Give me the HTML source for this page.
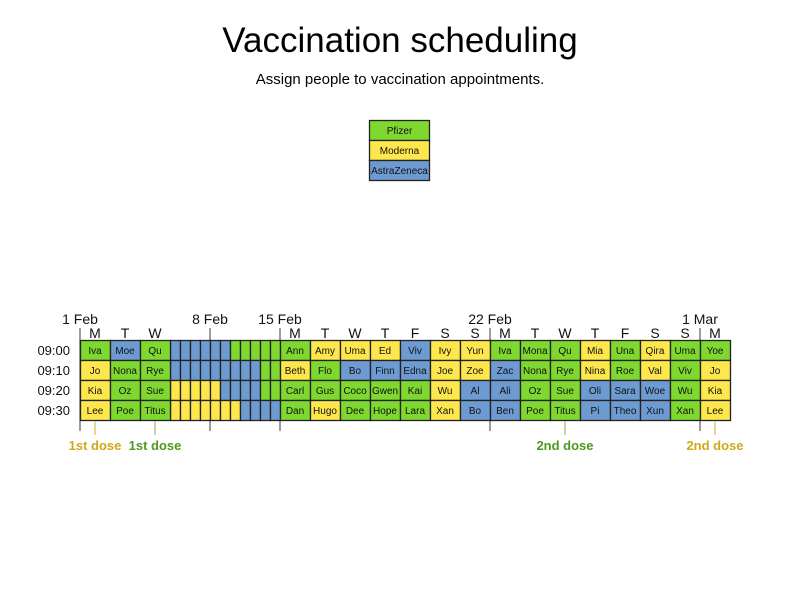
<!DOCTYPE html>
<html><head><meta charset="utf-8"><style>
body{margin:0;background:#fff}
svg{display:block;font-family:"Liberation Sans",sans-serif}
.G{fill:#7ed82f}.Y{fill:#fde74c}.B{fill:#6d9bd1}
rect{stroke:#222;stroke-width:1.3}
.n{font-size:10px;text-anchor:middle;fill:#111}
.d{font-size:14px;text-anchor:middle;fill:#111}
.t{font-size:13px;text-anchor:end;fill:#111}
.tk{stroke:#666;stroke-width:1.3}
</style></head><body>
<svg width="800" height="600" viewBox="0 0 800 600">
<text x="400" y="52" font-size="35" text-anchor="middle" fill="#000">Vaccination scheduling</text>
<text x="400" y="84" font-size="15" text-anchor="middle" fill="#000">Assign people to vaccination appointments.</text>
<rect class="G" x="369.5" y="120.5" width="60" height="20"/><text class="n" x="399.5" y="134">Pfizer</text>
<rect class="Y" x="369.5" y="140.5" width="60" height="20"/><text class="n" x="399.5" y="154">Moderna</text>
<rect class="B" x="369.5" y="160.5" width="60" height="20"/><text class="n" x="399.5" y="174">AstraZeneca</text>
<line class="tk" x1="80" y1="328" x2="80" y2="431"/>
<line class="tk" x1="210" y1="328" x2="210" y2="431"/>
<line class="tk" x1="280" y1="328" x2="280" y2="431"/>
<line class="tk" x1="490" y1="328" x2="490" y2="431"/>
<line class="tk" x1="700" y1="328" x2="700" y2="431"/>
<text class="d" x="80" y="324">1 Feb</text><text class="d" x="210" y="324">8 Feb</text><text class="d" x="280" y="324">15 Feb</text><text class="d" x="490" y="324">22 Feb</text><text class="d" x="700" y="324">1 Mar</text>
<g>
<text class="d" x="95" y="338">M</text><text class="d" x="125" y="338">T</text><text class="d" x="155" y="338">W</text>
<text class="d" x="295" y="338">M</text><text class="d" x="325" y="338">T</text><text class="d" x="355" y="338">W</text><text class="d" x="385" y="338">T</text><text class="d" x="415" y="338">F</text><text class="d" x="445" y="338">S</text><text class="d" x="475" y="338">S</text><text class="d" x="505" y="338">M</text><text class="d" x="535" y="338">T</text><text class="d" x="565" y="338">W</text><text class="d" x="595" y="338">T</text><text class="d" x="625" y="338">F</text><text class="d" x="655" y="338">S</text><text class="d" x="685" y="338">S</text><text class="d" x="715" y="338">M</text>
</g>
<text class="t" x="70" y="355">09:00</text><text class="t" x="70" y="375">09:10</text><text class="t" x="70" y="395">09:20</text><text class="t" x="70" y="415">09:30</text>
<g>
<rect class="B" x="170.5" y="340.5" width="10" height="20"/><rect class="B" x="180.5" y="340.5" width="10" height="20"/><rect class="B" x="190.5" y="340.5" width="10" height="20"/><rect class="B" x="200.5" y="340.5" width="10" height="20"/><rect class="B" x="210.5" y="340.5" width="10" height="20"/><rect class="B" x="220.5" y="340.5" width="10" height="20"/><rect class="G" x="230.5" y="340.5" width="10" height="20"/><rect class="G" x="240.5" y="340.5" width="10" height="20"/><rect class="G" x="250.5" y="340.5" width="10" height="20"/><rect class="G" x="260.5" y="340.5" width="10" height="20"/><rect class="G" x="270.5" y="340.5" width="10" height="20"/>
<rect class="B" x="170.5" y="360.5" width="10" height="20"/><rect class="B" x="180.5" y="360.5" width="10" height="20"/><rect class="B" x="190.5" y="360.5" width="10" height="20"/><rect class="B" x="200.5" y="360.5" width="10" height="20"/><rect class="B" x="210.5" y="360.5" width="10" height="20"/><rect class="B" x="220.5" y="360.5" width="10" height="20"/><rect class="B" x="230.5" y="360.5" width="10" height="20"/><rect class="B" x="240.5" y="360.5" width="10" height="20"/><rect class="B" x="250.5" y="360.5" width="10" height="20"/><rect class="G" x="260.5" y="360.5" width="10" height="20"/><rect class="G" x="270.5" y="360.5" width="10" height="20"/>
<rect class="Y" x="170.5" y="380.5" width="10" height="20"/><rect class="Y" x="180.5" y="380.5" width="10" height="20"/><rect class="Y" x="190.5" y="380.5" width="10" height="20"/><rect class="Y" x="200.5" y="380.5" width="10" height="20"/><rect class="Y" x="210.5" y="380.5" width="10" height="20"/><rect class="B" x="220.5" y="380.5" width="10" height="20"/><rect class="B" x="230.5" y="380.5" width="10" height="20"/><rect class="B" x="240.5" y="380.5" width="10" height="20"/><rect class="B" x="250.5" y="380.5" width="10" height="20"/><rect class="G" x="260.5" y="380.5" width="10" height="20"/><rect class="G" x="270.5" y="380.5" width="10" height="20"/>
<rect class="Y" x="170.5" y="400.5" width="10" height="20"/><rect class="Y" x="180.5" y="400.5" width="10" height="20"/><rect class="Y" x="190.5" y="400.5" width="10" height="20"/><rect class="Y" x="200.5" y="400.5" width="10" height="20"/><rect class="Y" x="210.5" y="400.5" width="10" height="20"/><rect class="Y" x="220.5" y="400.5" width="10" height="20"/><rect class="Y" x="230.5" y="400.5" width="10" height="20"/><rect class="B" x="240.5" y="400.5" width="10" height="20"/><rect class="B" x="250.5" y="400.5" width="10" height="20"/><rect class="B" x="260.5" y="400.5" width="10" height="20"/><rect class="B" x="270.5" y="400.5" width="10" height="20"/>
</g>
<g>
<rect class="G" x="80.5" y="340.5" width="30" height="20"/><text class="n" x="95" y="354">Iva</text>
<rect class="Y" x="80.5" y="360.5" width="30" height="20"/><text class="n" x="95" y="374">Jo</text>
<rect class="Y" x="80.5" y="380.5" width="30" height="20"/><text class="n" x="95" y="394">Kia</text>
<rect class="Y" x="80.5" y="400.5" width="30" height="20"/><text class="n" x="95" y="414">Lee</text>
<rect class="B" x="110.5" y="340.5" width="30" height="20"/><text class="n" x="125" y="354">Moe</text>
<rect class="G" x="110.5" y="360.5" width="30" height="20"/><text class="n" x="125" y="374">Nona</text>
<rect class="G" x="110.5" y="380.5" width="30" height="20"/><text class="n" x="125" y="394">Oz</text>
<rect class="G" x="110.5" y="400.5" width="30" height="20"/><text class="n" x="125" y="414">Poe</text>
<rect class="G" x="140.5" y="340.5" width="30" height="20"/><text class="n" x="155" y="354">Qu</text>
<rect class="G" x="140.5" y="360.5" width="30" height="20"/><text class="n" x="155" y="374">Rye</text>
<rect class="G" x="140.5" y="380.5" width="30" height="20"/><text class="n" x="155" y="394">Sue</text>
<rect class="G" x="140.5" y="400.5" width="30" height="20"/><text class="n" x="155" y="414">Titus</text>
<rect class="G" x="280.5" y="340.5" width="30" height="20"/><text class="n" x="295" y="354">Ann</text>
<rect class="Y" x="280.5" y="360.5" width="30" height="20"/><text class="n" x="295" y="374">Beth</text>
<rect class="G" x="280.5" y="380.5" width="30" height="20"/><text class="n" x="295" y="394">Carl</text>
<rect class="G" x="280.5" y="400.5" width="30" height="20"/><text class="n" x="295" y="414">Dan</text>
<rect class="Y" x="310.5" y="340.5" width="30" height="20"/><text class="n" x="325" y="354">Amy</text>
<rect class="G" x="310.5" y="360.5" width="30" height="20"/><text class="n" x="325" y="374">Flo</text>
<rect class="G" x="310.5" y="380.5" width="30" height="20"/><text class="n" x="325" y="394">Gus</text>
<rect class="Y" x="310.5" y="400.5" width="30" height="20"/><text class="n" x="325" y="414">Hugo</text>
<rect class="Y" x="340.5" y="340.5" width="30" height="20"/><text class="n" x="355" y="354">Uma</text>
<rect class="B" x="340.5" y="360.5" width="30" height="20"/><text class="n" x="355" y="374">Bo</text>
<rect class="G" x="340.5" y="380.5" width="30" height="20"/><text class="n" x="355" y="394">Coco</text>
<rect class="G" x="340.5" y="400.5" width="30" height="20"/><text class="n" x="355" y="414">Dee</text>
<rect class="Y" x="370.5" y="340.5" width="30" height="20"/><text class="n" x="385" y="354">Ed</text>
<rect class="B" x="370.5" y="360.5" width="30" height="20"/><text class="n" x="385" y="374">Finn</text>
<rect class="G" x="370.5" y="380.5" width="30" height="20"/><text class="n" x="385" y="394">Gwen</text>
<rect class="G" x="370.5" y="400.5" width="30" height="20"/><text class="n" x="385" y="414">Hope</text>
<rect class="B" x="400.5" y="340.5" width="30" height="20"/><text class="n" x="415" y="354">Viv</text>
<rect class="B" x="400.5" y="360.5" width="30" height="20"/><text class="n" x="415" y="374">Edna</text>
<rect class="G" x="400.5" y="380.5" width="30" height="20"/><text class="n" x="415" y="394">Kai</text>
<rect class="G" x="400.5" y="400.5" width="30" height="20"/><text class="n" x="415" y="414">Lara</text>
<rect class="Y" x="430.5" y="340.5" width="30" height="20"/><text class="n" x="445" y="354">Ivy</text>
<rect class="Y" x="430.5" y="360.5" width="30" height="20"/><text class="n" x="445" y="374">Joe</text>
<rect class="Y" x="430.5" y="380.5" width="30" height="20"/><text class="n" x="445" y="394">Wu</text>
<rect class="Y" x="430.5" y="400.5" width="30" height="20"/><text class="n" x="445" y="414">Xan</text>
<rect class="Y" x="460.5" y="340.5" width="30" height="20"/><text class="n" x="475" y="354">Yun</text>
<rect class="Y" x="460.5" y="360.5" width="30" height="20"/><text class="n" x="475" y="374">Zoe</text>
<rect class="B" x="460.5" y="380.5" width="30" height="20"/><text class="n" x="475" y="394">Al</text>
<rect class="B" x="460.5" y="400.5" width="30" height="20"/><text class="n" x="475" y="414">Bo</text>
<rect class="G" x="490.5" y="340.5" width="30" height="20"/><text class="n" x="505" y="354">Iva</text>
<rect class="B" x="490.5" y="360.5" width="30" height="20"/><text class="n" x="505" y="374">Zac</text>
<rect class="B" x="490.5" y="380.5" width="30" height="20"/><text class="n" x="505" y="394">Ali</text>
<rect class="B" x="490.5" y="400.5" width="30" height="20"/><text class="n" x="505" y="414">Ben</text>
<rect class="G" x="520.5" y="340.5" width="30" height="20"/><text class="n" x="535" y="354">Mona</text>
<rect class="G" x="520.5" y="360.5" width="30" height="20"/><text class="n" x="535" y="374">Nona</text>
<rect class="G" x="520.5" y="380.5" width="30" height="20"/><text class="n" x="535" y="394">Oz</text>
<rect class="G" x="520.5" y="400.5" width="30" height="20"/><text class="n" x="535" y="414">Poe</text>
<rect class="G" x="550.5" y="340.5" width="30" height="20"/><text class="n" x="565" y="354">Qu</text>
<rect class="G" x="550.5" y="360.5" width="30" height="20"/><text class="n" x="565" y="374">Rye</text>
<rect class="G" x="550.5" y="380.5" width="30" height="20"/><text class="n" x="565" y="394">Sue</text>
<rect class="G" x="550.5" y="400.5" width="30" height="20"/><text class="n" x="565" y="414">Titus</text>
<rect class="Y" x="580.5" y="340.5" width="30" height="20"/><text class="n" x="595" y="354">Mia</text>
<rect class="Y" x="580.5" y="360.5" width="30" height="20"/><text class="n" x="595" y="374">Nina</text>
<rect class="B" x="580.5" y="380.5" width="30" height="20"/><text class="n" x="595" y="394">Oli</text>
<rect class="B" x="580.5" y="400.5" width="30" height="20"/><text class="n" x="595" y="414">Pi</text>
<rect class="G" x="610.5" y="340.5" width="30" height="20"/><text class="n" x="625" y="354">Una</text>
<rect class="G" x="610.5" y="360.5" width="30" height="20"/><text class="n" x="625" y="374">Roe</text>
<rect class="B" x="610.5" y="380.5" width="30" height="20"/><text class="n" x="625" y="394">Sara</text>
<rect class="B" x="610.5" y="400.5" width="30" height="20"/><text class="n" x="625" y="414">Theo</text>
<rect class="Y" x="640.5" y="340.5" width="30" height="20"/><text class="n" x="655" y="354">Qira</text>
<rect class="Y" x="640.5" y="360.5" width="30" height="20"/><text class="n" x="655" y="374">Val</text>
<rect class="B" x="640.5" y="380.5" width="30" height="20"/><text class="n" x="655" y="394">Woe</text>
<rect class="B" x="640.5" y="400.5" width="30" height="20"/><text class="n" x="655" y="414">Xun</text>
<rect class="G" x="670.5" y="340.5" width="30" height="20"/><text class="n" x="685" y="354">Uma</text>
<rect class="G" x="670.5" y="360.5" width="30" height="20"/><text class="n" x="685" y="374">Viv</text>
<rect class="G" x="670.5" y="380.5" width="30" height="20"/><text class="n" x="685" y="394">Wu</text>
<rect class="G" x="670.5" y="400.5" width="30" height="20"/><text class="n" x="685" y="414">Xan</text>
<rect class="G" x="700.5" y="340.5" width="30" height="20"/><text class="n" x="715" y="354">Yoe</text>
<rect class="Y" x="700.5" y="360.5" width="30" height="20"/><text class="n" x="715" y="374">Jo</text>
<rect class="Y" x="700.5" y="380.5" width="30" height="20"/><text class="n" x="715" y="394">Kia</text>
<rect class="Y" x="700.5" y="400.5" width="30" height="20"/><text class="n" x="715" y="414">Lee</text>
</g>
<line x1="95" y1="421" x2="95" y2="435" stroke="#e0c870" stroke-width="1.5"/>
<line x1="155" y1="421" x2="155" y2="435" stroke="#a8cc88" stroke-width="1.5"/>
<line x1="565" y1="421" x2="565" y2="435" stroke="#a8cc88" stroke-width="1.5"/>
<line x1="715" y1="421" x2="715" y2="435" stroke="#e0c870" stroke-width="1.5"/>
<g font-size="13" font-weight="bold" text-anchor="middle">
<text x="95" y="450" fill="#d0a818">1st dose</text>
<text x="155" y="450" fill="#4c9a1c">1st dose</text>
<text x="565" y="450" fill="#4c9a1c">2nd dose</text>
<text x="715" y="450" fill="#d0a818">2nd dose</text>
</g>
</svg>
</body></html>
